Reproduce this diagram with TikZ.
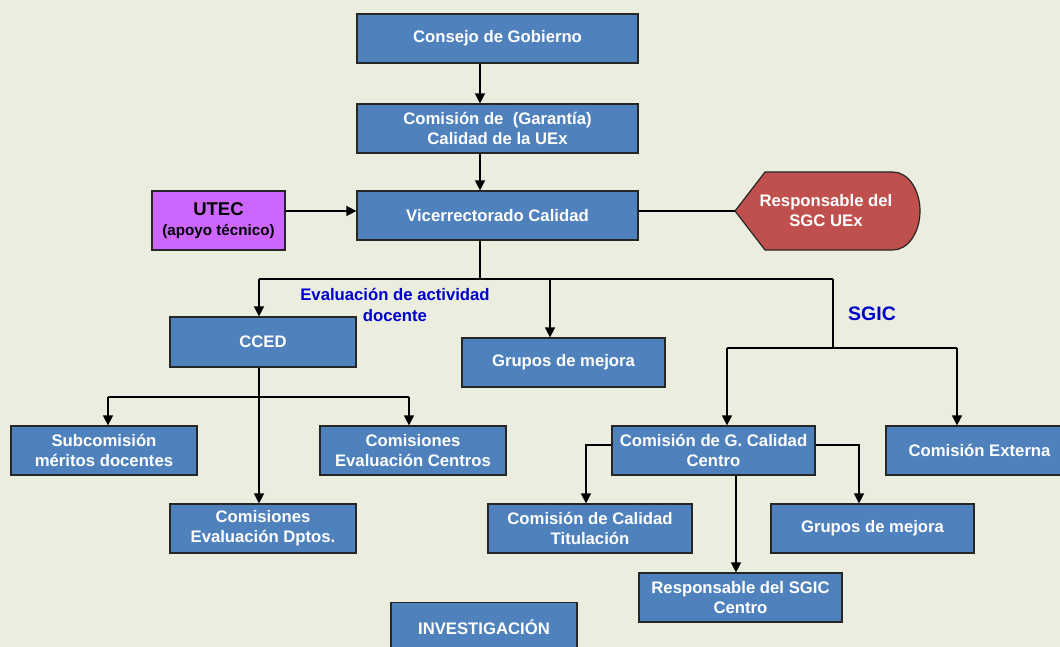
\documentclass[tikz,border=0pt]{standalone}
\usepackage{fontspec}
\setmainfont{Liberation Sans}
\usetikzlibrary{arrows.meta}
\definecolor{bgc}{HTML}{EBEEDF}
\definecolor{boxblue}{HTML}{4F81BD}
\definecolor{utecc}{HTML}{CC66FF}
\definecolor{respc}{HTML}{C0504D}
\definecolor{labblue}{HTML}{0000CC}
\tikzset{
  box/.style={draw=black!85, line width=1.2pt, fill=boxblue, text=white,
    font=\fontsize{16.7}{20}\selectfont\bfseries, align=center, inner sep=0pt,
    minimum height=49pt},
  conn/.style={line width=1.4pt, draw=black},
  arr/.style={conn, -{Triangle[length=10pt,width=10pt]}},
  lab/.style={text=labblue, align=center, inner sep=0pt}
}
\begin{document}
\begin{tikzpicture}[x=1pt,y=-1pt]
\clip (0,0) rectangle (1060,647);
\fill[bgc] (0,0) rectangle (1060,647);
% boxes
\node[box, minimum width=281pt] (cg) at (497.5,38.5) {Consejo de Gobierno};
\node[box, minimum width=281pt] (cc) at (497.5,128.5) {Comisión de \ (Garantía)\\Calidad de la UEx};
\node[box, minimum width=281pt] (vic) at (497.5,215.5) {Vicerrectorado Calidad};
\node[box, fill=utecc, text=black, minimum width=133pt, minimum height=59pt] (utec) at (218.5,220.5)
  {{\fontsize{18.5}{21}\selectfont UTEC}\\{\fontsize{15.2}{18}\selectfont (apoyo técnico)}};
% responsable SGC display shape
\draw[line width=1.2pt, draw=black!85, fill=respc]
  (735,211) -- (765,172) -- (893,172) arc[start angle=-90, end angle=90, x radius=27, y radius=39]
  -- (765,250) -- cycle;
\coordinate (resptip) at (735,211);
\node[text=white, font=\fontsize{16.7}{20}\selectfont\bfseries, align=center] (resp) at (826,211)
  {Responsable del\\SGC UEx};
\node[box, minimum width=186pt, minimum height=50pt] (cced) at (263,342) {CCED};
\node[box, minimum width=203pt] (gm1) at (563.5,362.5) {Grupos de mejora};
\node[box, minimum width=186pt] (sub) at (104,450.5) {Subcomisión\\méritos docentes};
\node[box, minimum width=186pt] (cec) at (413,450.5) {Comisiones\\Evaluación Centros};
\node[box, minimum width=186pt] (ced) at (263,528.5) {Comisiones\\Evaluación Dptos.};
\node[box, minimum width=203pt] (cgc) at (713.5,450.5) {Comisión de G. Calidad\\Centro};
\node[box, minimum width=187pt] (cext) at (979.5,450.5) {Comisión Externa};
\node[box, minimum width=204pt] (cct) at (590,528.5) {Comisión de Calidad\\Titulación};
\node[box, minimum width=203pt] (gm2) at (872.5,528.5) {Grupos de mejora};
\node[box, minimum width=203pt] (rsgic) at (740.5,597.5) {Responsable del SGIC\\Centro};
\node[box, minimum width=186pt] (inv) at (484,627) {INVESTIGACIÓN};
% labels
\node[lab, font=\fontsize{16.7}{21}\selectfont\bfseries] (evl) at (395,305) {Evaluación de actividad\\docente};
\node[lab, font=\fontsize{19.5}{22}\selectfont\bfseries] (sgic) at (872,314) {SGIC};
% helper coordinates
\coordinate (xa) at (480,0);
\coordinate (ya) at (0,211);
\coordinate (hb) at (0,279);
\coordinate (xl) at (259,0);
\coordinate (xm) at (550,0);
\coordinate (xr) at (833,0);
\coordinate (hs) at (0,348);
\coordinate (xg) at (727,0);
\coordinate (xe) at (957,0);
\coordinate (hc) at (0,397);
\coordinate (xs) at (108,0);
\coordinate (xc) at (409,0);
\coordinate (hg) at (0,445);
\coordinate (xt) at (586,0);
\coordinate (xq) at (859,0);
\coordinate (xv) at (736,0);
% connectors
\draw[arr] (cg.south -| xa) -- (cc.north -| xa);
\draw[arr] (cc.south -| xa) -- (vic.north -| xa);
\draw[arr] (utec.east |- ya) -- (vic.west |- ya);
\draw[conn] (vic.east |- ya) -- (resptip);
\draw[conn] (vic.south -| xa) -- (xa |- hb);
\draw[conn] (xl |- hb) -- (xr |- hb);
\draw[arr] (xl |- hb) -- (cced.north -| xl);
\draw[arr] (xm |- hb) -- (gm1.north -| xm);
\draw[conn] (xr |- hb) -- (xr |- hs);
\draw[conn] (xg |- hs) -- (xe |- hs);
\draw[arr] (xg |- hs) -- (cgc.north -| xg);
\draw[arr] (xe |- hs) -- (cext.north -| xe);
\draw[arr] (cced.south -| xl) -- (ced.north -| xl);
\draw[conn] (xs |- hc) -- (xc |- hc);
\draw[arr] (xs |- hc) -- (sub.north -| xs);
\draw[arr] (xc |- hc) -- (cec.north -| xc);
\draw[arr] (cgc.west |- hg) -| (cct.north -| xt);
\draw[arr] (cgc.east |- hg) -| (gm2.north -| xq);
\draw[arr] (cgc.south -| xv) -- (rsgic.north -| xv);
\end{tikzpicture}
\end{document}
